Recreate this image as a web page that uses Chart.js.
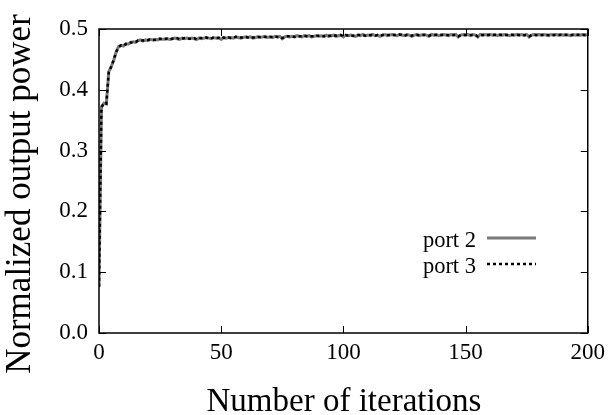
<!DOCTYPE html>
<html>
<head>
<meta charset="utf-8">
<script src="https://cdn.jsdelivr.net/npm/chart.js@4"></script>
<style>
  body { margin: 0; background: #fff; }
  #wrap { width: 611px; height: 415px; }
</style>
</head>
<body>
<div id="wrap"><canvas id="powerChart"></canvas></div>
<script>
// output power, one value per iteration (0..200)
const port2 = [
  0.076,0.372,0.378,0.377,0.430,0.438,0.448,0.462,0.471,0.473,
  0.472,0.476,0.475,0.478,0.479,0.478,0.481,0.482,0.480,0.482,
  0.481,0.483,0.482,0.483,0.482,0.484,0.483,0.483,0.484,0.483,
  0.484,0.485,0.484,0.483,0.485,0.484,0.485,0.484,0.485,0.484,
  0.483,0.485,0.484,0.485,0.486,0.485,0.484,0.486,0.485,0.486,
  0.483,0.486,0.485,0.486,0.486,0.485,0.487,0.486,0.485,0.486,
  0.487,0.486,0.487,0.485,0.486,0.487,0.486,0.487,0.488,0.486,
  0.487,0.486,0.488,0.487,0.488,0.484,0.487,0.488,0.487,0.488,
  0.487,0.489,0.488,0.487,0.489,0.488,0.489,0.487,0.488,0.489,
  0.488,0.489,0.488,0.490,0.488,0.489,0.490,0.488,0.489,0.490,
  0.487,0.490,0.489,0.490,0.489,0.488,0.490,0.489,0.491,0.489,
  0.490,0.489,0.491,0.489,0.490,0.488,0.490,0.491,0.489,0.490,
  0.491,0.490,0.489,0.491,0.490,0.489,0.491,0.490,0.488,0.490,
  0.491,0.489,0.490,0.491,0.490,0.488,0.491,0.490,0.491,0.489,
  0.490,0.491,0.490,0.489,0.491,0.490,0.491,0.487,0.490,0.491,
  0.490,0.491,0.489,0.491,0.490,0.487,0.491,0.490,0.491,0.490,
  0.491,0.490,0.491,0.489,0.491,0.490,0.491,0.490,0.489,0.491,
  0.490,0.491,0.490,0.491,0.489,0.491,0.487,0.490,0.491,0.490,
  0.491,0.490,0.491,0.490,0.489,0.491,0.490,0.491,0.490,0.491,
  0.490,0.491,0.490,0.489,0.491,0.490,0.491,0.490,0.491,0.490,
  0.491
];
const port3 = [
  0.076,0.371,0.378,0.377,0.429,0.438,0.449,0.462,0.470,0.473,
  0.472,0.475,0.476,0.478,0.478,0.479,0.481,0.481,0.481,0.482,
  0.482,0.483,0.482,0.482,0.483,0.484,0.483,0.484,0.484,0.483,
  0.484,0.484,0.485,0.483,0.484,0.485,0.485,0.484,0.484,0.485,
  0.483,0.485,0.485,0.485,0.486,0.484,0.485,0.486,0.485,0.485,
  0.484,0.486,0.485,0.486,0.485,0.486,0.487,0.486,0.486,0.486,
  0.487,0.486,0.486,0.486,0.486,0.487,0.487,0.487,0.487,0.486,
  0.487,0.487,0.488,0.487,0.487,0.485,0.487,0.488,0.488,0.488,
  0.487,0.488,0.488,0.488,0.489,0.488,0.488,0.488,0.488,0.489,
  0.489,0.489,0.488,0.489,0.489,0.489,0.490,0.489,0.489,0.490,
  0.488,0.490,0.489,0.489,0.489,0.489,0.490,0.490,0.490,0.489,
  0.490,0.490,0.490,0.489,0.490,0.489,0.490,0.490,0.490,0.490,
  0.490,0.490,0.490,0.491,0.490,0.489,0.490,0.490,0.489,0.490,
  0.490,0.490,0.490,0.490,0.490,0.489,0.490,0.490,0.490,0.490,
  0.490,0.490,0.490,0.490,0.490,0.490,0.490,0.488,0.490,0.490,
  0.490,0.490,0.490,0.490,0.490,0.488,0.490,0.490,0.490,0.490,
  0.490,0.490,0.490,0.490,0.490,0.490,0.490,0.490,0.490,0.490,
  0.490,0.490,0.490,0.490,0.490,0.490,0.488,0.490,0.490,0.490,
  0.490,0.490,0.490,0.490,0.490,0.490,0.490,0.490,0.490,0.490,
  0.490,0.490,0.490,0.490,0.490,0.490,0.490,0.490,0.490,0.490,
  0.490
];
const seriesNames = ["port 2", "port 3"];
const xTicks = [0, 50, 100, 150, 200];
const yTicks = [0.0, 0.1, 0.2, 0.3, 0.4, 0.5];
const xTitle = "Number of iterations";
const yTitle = "Normalized output power";

const iterations = port2.map((_, i) => i);
const serif = "'Liberation Serif', 'Times New Roman', serif";

// gnuplot style frame: box, inward ticks on all sides, titles and key
const framePlugin = {
  id: "frame",
  afterDraw(chart) {
    const { ctx, chartArea: a, scales } = chart;
    ctx.save();
    ctx.strokeStyle = "#000";
    ctx.lineWidth = 1.5;
    ctx.strokeRect(a.left, a.top, a.right - a.left, a.bottom - a.top);
    ctx.lineWidth = 1;
    const tl = 7;
    xTicks.forEach(v => {
      const x = Math.round(scales.x.getPixelForValue(v)) + 0.5;
      ctx.beginPath();
      ctx.moveTo(x, a.bottom); ctx.lineTo(x, a.bottom - tl);
      ctx.moveTo(x, a.top); ctx.lineTo(x, a.top + tl);
      ctx.stroke();
    });
    yTicks.forEach(v => {
      const y = Math.round(scales.y.getPixelForValue(v)) + 0.5;
      ctx.beginPath();
      ctx.moveTo(a.left, y); ctx.lineTo(a.left + tl, y);
      ctx.moveTo(a.right, y); ctx.lineTo(a.right - tl, y);
      ctx.stroke();
    });

    // axis titles
    ctx.fillStyle = "#000";
    ctx.textAlign = "center";
    ctx.textBaseline = "alphabetic";
    ctx.font = "33px " + serif;
    ctx.fillText(xTitle, 344, 411);
    ctx.save();
    ctx.translate(30, 194);
    ctx.rotate(-Math.PI / 2);
    ctx.font = "35px " + serif;
    ctx.fillText(yTitle, 0, 0);
    ctx.restore();

    // key
    ctx.font = "22.5px " + serif;
    ctx.textAlign = "right";
    const keys = [
      { y: 247, color: "#7a7a7a", width: 3, dash: [] },
      { y: 273, color: "#000", width: 2.5, dash: [3, 3] }
    ];
    keys.forEach((k, i) => {
      ctx.fillText(seriesNames[i], 476, k.y);
      ctx.beginPath();
      ctx.strokeStyle = k.color;
      ctx.lineWidth = k.width;
      ctx.setLineDash(k.dash);
      ctx.moveTo(487, k.y - 9);
      ctx.lineTo(536, k.y - 9);
      ctx.stroke();
      ctx.setLineDash([]);
    });
    ctx.restore();
  }
};

new Chart(document.getElementById("powerChart").getContext("2d"), {
  type: "line",
  data: {
    datasets: [
      {
        label: seriesNames[0],
        data: iterations.map(i => ({ x: i, y: port2[i] })),
        borderColor: "#7a7a7a",
        borderWidth: 3,
        order: 2
      },
      {
        label: seriesNames[1],
        data: iterations.map(i => ({ x: i, y: port3[i] })),
        borderColor: "#000",
        borderWidth: 2.5,
        borderDash: [3, 3],
        order: 1
      }
    ]
  },
  options: {
    responsive: true,
    maintainAspectRatio: false,
    animation: false,
    layout: { padding: { left: 0, top: 29, right: 21, bottom: 0 } },
    elements: { point: { radius: 0 }, line: { tension: 0 } },
    scales: {
      x: {
        type: "linear",
        min: 0,
        max: 200,
        afterBuildTicks: s => { s.ticks = xTicks.map(v => ({ value: v })); },
        ticks: { color: "#000", font: { family: serif, size: 23 }, padding: 6, maxRotation: 0 },
        grid: { display: false, drawTicks: false },
        border: { display: false },
        afterFit: s => { s.height = 82; }
      },
      y: {
        min: 0,
        max: 0.5,
        afterBuildTicks: s => { s.ticks = yTicks.map(v => ({ value: v })); },
        ticks: { color: "#000", font: { family: serif, size: 23 }, padding: 11, callback: v => v.toFixed(1) },
        grid: { display: false, drawTicks: false },
        border: { display: false },
        afterFit: s => { s.width = 99; }
      }
    },
    plugins: {
      legend: { display: false },
      tooltip: { enabled: false }
    }
  },
  plugins: [framePlugin]
});
</script>
</body>
</html>
